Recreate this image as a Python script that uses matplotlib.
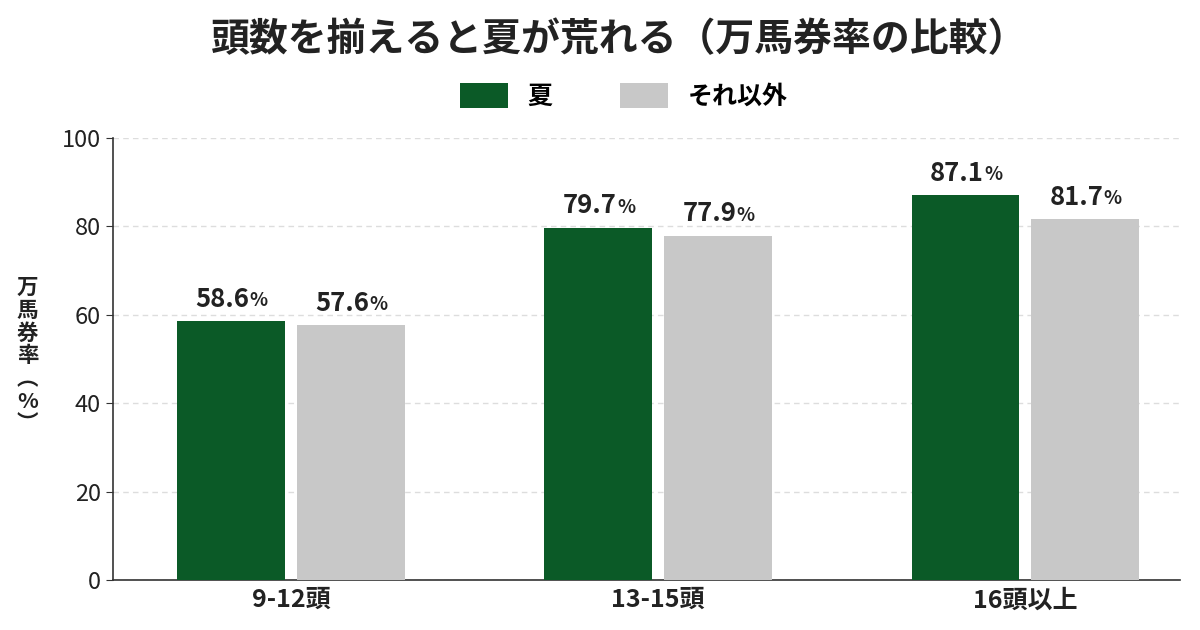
import matplotlib
matplotlib.use('Agg')
import numpy as np
import matplotlib.pyplot as plt

plt.rcParams['font.family'] = ['Noto Sans CJK JP', 'DejaVu Sans']

categories = ['9-12頭', '13-15頭', '16頭以上']
summer = [58.6, 79.7, 87.1]
others = [57.6, 77.9, 81.7]
series_names = ['夏', 'それ以外']
yticks = [0, 20, 40, 60, 80, 100]

green = '#0b5a27'
gray = '#c8c8c8'

fig = plt.figure(figsize=(12, 6.3), dpi=100)
ax = fig.add_axes([0.094, 0.0794, 0.889, 0.7016])

x = np.arange(len(categories))
w = 0.294
off = 0.163
b1 = ax.bar(x - off, summer, w, color=green, label=series_names[0], zorder=3)
b2 = ax.bar(x + off, others, w, color=gray, label=series_names[1], zorder=3)

# 数値ラベル（%は小さめ）
for bars, vals in ((b1, summer), (b2, others)):
    for rect, v in zip(bars, vals):
        cx = rect.get_x() + rect.get_width() / 2
        t = ax.annotate(f'{v:.1f}', xy=(cx, v), xytext=(-6, 6), textcoords='offset points',
                        ha='center', va='bottom', fontsize=18.5, fontweight='semibold', color='#222222')
        ax.annotate('%', xy=(1, 0.1), xycoords=t, ha='left', va='bottom',
                    fontsize=13.5, fontweight='semibold', color='#222222')

ax.set_xlim(-0.485, 2.42)
ax.set_ylim(0, 100)
ax.set_yticks(yticks)
ax.set_xticks(x)
ax.set_xticklabels(categories, fontsize=18, fontweight='semibold', color='#222222')
ax.tick_params(axis='y', labelsize=17, length=5, color='#333333', labelcolor='#222222')
ax.tick_params(axis='x', length=0, pad=6)
ax.grid(axis='y', linestyle=(0, (4, 3)), color='#dddddd', linewidth=1, zorder=0)
for s in ('top', 'right'):
    ax.spines[s].set_visible(False)
for s in ('left', 'bottom'):
    ax.spines[s].set_color('#333333')
    ax.spines[s].set_linewidth(1.2)

fig.text(0.023, 0.435, '万\n馬\n券\n率\n︵\n%\n︶', ha='center', va='center',
         fontsize=15.5, fontweight='semibold', linespacing=1.1, color='#222222')

fig.suptitle('頭数を揃えると夏が荒れる（万馬券率の比較）', x=0.516, y=0.968, fontsize=28,
             fontweight='bold', color='#222222')
fig.legend(loc='center', bbox_to_anchor=(0.52, 0.848), ncol=2, frameon=False,
           prop={'size': 18, 'weight': 'semibold'}, handlelength=1.9, handleheight=1.2,
           columnspacing=2.7, handletextpad=0.8)

fig.savefig('out.png', dpi=100)
